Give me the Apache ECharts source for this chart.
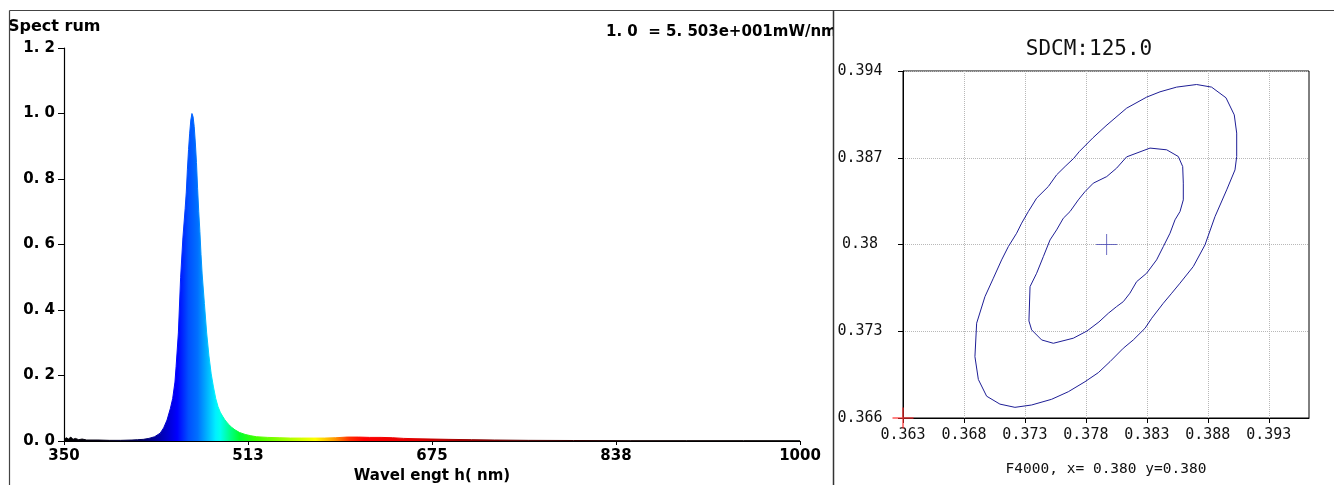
<!DOCTYPE html>
<html>
<head>
<meta charset="utf-8">
<script src="https://cdn.jsdelivr.net/npm/echarts@6/dist/echarts.min.js"></script>
<style>
html,body{margin:0;padding:0;background:#fff;}
#chart{width:1334px;height:485px;}
</style>
</head>
<body>
<div id="chart"></div>
<script>
// ---- Spectrum data (wavelength nm, relative intensity) ----
var wavelengths = [350,352,354,356,358,360,363,366,370,380,390,400,410,415,420,425,430,435,438,441,444,446,448,449,451,453,455,457,458,459,460,461,462,463,464,465,466,467,468,469,470,471,472,474,476,478,480,482,484,486,488,490,492,495,498,501,505,510,515,520,530,540,550,560,570,580,590,600,610,620,630,640,650,660,675,690,710,730,760,800,850,900,950,1000];
var intensities = [0.004,0.010,0.006,0.012,0.005,0.008,0.004,0.006,0.003,0.003,0.002,0.002,0.003,0.004,0.005,0.008,0.013,0.024,0.040,0.064,0.100,0.130,0.180,0.227,0.330,0.500,0.620,0.710,0.760,0.830,0.890,0.940,0.980,1.000,0.990,0.960,0.910,0.850,0.770,0.700,0.640,0.570,0.510,0.420,0.330,0.260,0.205,0.165,0.130,0.105,0.088,0.076,0.065,0.052,0.042,0.034,0.026,0.020,0.016,0.013,0.011,0.010,0.009,0.009,0.009,0.009,0.010,0.012,0.012,0.011,0.011,0.010,0.008,0.007,0.006,0.005,0.004,0.003,0.002,0.0015,0.001,0.001,0.001,0.001];
var spectrumXTicks = [350,512.5,675,837.5,1000];
var spectrumYTicks = [0,0.2,0.4,0.6,0.8,1.0,1.2];
var spectrumTitle = 'Spect rum';
var spectrumXName = 'Wavel engt h( nm)';
var spectrumScaleText = '1. 0  = 5. 503e+001mW/nm';

// ---- Chromaticity (SDCM) data ----
var outerContour = [[0.37700,0.38695],[0.37746,0.38750],[0.37858,0.38861],[0.37965,0.38958],[0.38134,0.39100],[0.38298,0.39189],[0.38408,0.39232],[0.38544,0.39270],[0.38708,0.39291],[0.38831,0.39270],[0.38949,0.39184],[0.39017,0.39046],[0.39037,0.38899],[0.39037,0.38710],[0.39023,0.38602],[0.38955,0.38441],[0.38859,0.38225],[0.38777,0.37997],[0.38681,0.37822],[0.38572,0.37688],[0.38504,0.37607],[0.38435,0.37526],[0.38340,0.37405],[0.38285,0.37324],[0.38189,0.37230],[0.38107,0.37163],[0.37998,0.37055],[0.37902,0.36966],[0.37793,0.36893],[0.37656,0.36812],[0.37519,0.36751],[0.37355,0.36705],[0.37218,0.36686],[0.37095,0.36712],[0.36986,0.36776],[0.36918,0.36911],[0.36890,0.37095],[0.36904,0.37365],[0.36972,0.37579],[0.37041,0.37728],[0.37109,0.37876],[0.37164,0.37983],[0.37232,0.38091],[0.37273,0.38172],[0.37328,0.38266],[0.37396,0.38374],[0.37492,0.38468],[0.37560,0.38562],[0.37630,0.38630],[0.37700,0.38695]];
var innerContour = [[0.38134,0.38707],[0.38326,0.38778],[0.38463,0.38764],[0.38558,0.38710],[0.38594,0.38629],[0.38599,0.38495],[0.38599,0.38360],[0.38572,0.38266],[0.38531,0.38199],[0.38490,0.38091],[0.38435,0.37983],[0.38380,0.37876],[0.38298,0.37768],[0.38216,0.37700],[0.38161,0.37607],[0.38107,0.37539],[0.38052,0.37499],[0.37984,0.37445],[0.37907,0.37375],[0.37809,0.37302],[0.37697,0.37244],[0.37533,0.37203],[0.37437,0.37230],[0.37355,0.37311],[0.37333,0.37383],[0.37342,0.37660],[0.37396,0.37768],[0.37451,0.37902],[0.37506,0.38037],[0.37560,0.38118],[0.37615,0.38212],[0.37670,0.38266],[0.37738,0.38360],[0.37793,0.38427],[0.37861,0.38495],[0.37971,0.38548],[0.38052,0.38616],[0.38134,0.38707]];
var centerPoint = [[0.3797,0.3800]];
var referencePoint = [[0.363,0.366]];
var cieXTicks = [0.363,0.368,0.373,0.378,0.383,0.388,0.393];
var cieYTicks = [0.366,0.373,0.38,0.387,0.394];
var cieTitle = 'SDCM:125.0';
var cieXName = 'F4000, x= 0.380 y=0.380';

var spectrumData = wavelengths.map(function(w,i){return [w,intensities[i]];});

function spectrumGradient(){
  var stops = [
    [350,'#000000'],[390,'#05001a'],[420,'#000060'],[440,'#0000c8'],[450,'#0000ff'],
    [460,'#0050ff'],[468,'#0070ff'],[476,'#00b0ff'],[484,'#00f0ff'],[488,'#00ffee'],
    [496,'#00ff90'],[505,'#00ff30'],[520,'#40ff00'],[550,'#b0ff00'],[572,'#ffff00'],
    [588,'#ffa000'],[602,'#ff3000'],[615,'#ff0000'],[660,'#e00000'],[700,'#a00000'],
    [760,'#500000'],[850,'#150000'],[1000,'#000000']
  ];
  return new echarts.graphic.LinearGradient(0,0,1,0, stops.map(function(s){
    return {offset:(s[0]-350)/650, color:s[1]};
  }));
}

var chart = echarts.init(document.getElementById('chart'), null, {renderer:'canvas'});
var leftFont = 'DejaVu Sans';
var monoFont = 'DejaVu Sans Mono';

var option = {
  animation:false,
  backgroundColor:'#ffffff',
  grid:[
    {left:64, top:48, width:736, height:393, show:false, containLabel:false, outerBoundsMode:'none'},
    {left:903, top:71, width:406, height:347, show:true, borderColor:'#000', borderWidth:1, backgroundColor:'rgba(0,0,0,0)', containLabel:false, outerBoundsMode:'none'}
  ],
  xAxis:[
    {type:'value', gridIndex:0, min:350, max:1000,
     axisLine:{show:true, lineStyle:{color:'#000', width:1.2}},
     axisTick:{show:true, length:4, customValues:spectrumXTicks, lineStyle:{color:'#000'}},
     axisLabel:{customValues:spectrumXTicks, margin:8, color:'#000', fontFamily:leftFont, fontWeight:'bold', fontSize:15,
       formatter:function(v){return String(Math.round(v));}},
     splitLine:{show:false},
     name:spectrumXName, nameLocation:'middle', nameGap:27,
     nameTextStyle:{color:'#000', fontFamily:leftFont, fontWeight:'bold', fontSize:15}
    },
    {type:'value', gridIndex:1, min:0.363, max:0.3963,
     axisLine:{show:true, onZero:false, lineStyle:{color:'#000', width:1}},
     axisTick:{show:true, length:5, customValues:cieXTicks, lineStyle:{color:'#000'}},
     axisLabel:{customValues:cieXTicks, margin:10, color:'#111', fontFamily:monoFont, fontSize:15,
       formatter:function(v){return v.toFixed(3);}},
     splitLine:{show:true, lineStyle:{color:'#b8b8b8', type:'dotted', width:1}},
     name:cieXName, nameLocation:'middle', nameGap:44,
     nameTextStyle:{color:'#111', fontFamily:monoFont, fontSize:14.5}
    }
  ],
  yAxis:[
    {type:'value', gridIndex:0, min:0, max:1.2,
     axisLine:{show:true, lineStyle:{color:'#000', width:1.2}},
     axisTick:{show:true, length:6, customValues:spectrumYTicks, lineStyle:{color:'#000'}},
     axisLabel:{customValues:spectrumYTicks, margin:9, color:'#000', fontFamily:leftFont, fontWeight:'bold', fontSize:15,
       formatter:function(v){return v.toFixed(1).replace('.', '. ');}},
     splitLine:{show:false}
    },
    {type:'value', gridIndex:1, min:0.366, max:0.394,
     axisLine:{show:true, onZero:false, lineStyle:{color:'#000', width:1}},
     axisTick:{show:true, length:5, customValues:cieYTicks, lineStyle:{color:'#000'}},
     axisLabel:{customValues:cieYTicks, margin:43, align:'center', color:'#111', fontFamily:monoFont, fontSize:15,
       formatter:function(v){return String(+v.toFixed(3));}},
     splitLine:{show:true, lineStyle:{color:'#b8b8b8', type:'dotted', width:1}}
    }
  ],
  series:[
    {type:'line', xAxisIndex:0, yAxisIndex:0, data:spectrumData, symbol:'none', smooth:false,
     lineStyle:{width:1, color:spectrumGradient()},
     areaStyle:{color:spectrumGradient(), opacity:1}},
    {type:'line', xAxisIndex:1, yAxisIndex:1, data:outerContour, symbol:'none', smooth:false,
     lineStyle:{width:1, color:'#1e1e96'}},
    {type:'line', xAxisIndex:1, yAxisIndex:1, data:innerContour, symbol:'none', smooth:false,
     lineStyle:{width:1, color:'#1e1e96'}},
    {type:'scatter', xAxisIndex:1, yAxisIndex:1, data:centerPoint, clip:false,
     symbol:'path://M10 0 L10 20 M0 10 L20 10', symbolSize:21,
     itemStyle:{color:'none', borderColor:'#4a4ab4', borderWidth:1}},
    {type:'scatter', xAxisIndex:1, yAxisIndex:1, data:referencePoint, clip:false,
     symbol:'path://M10 0 L10 20 M0 10 L20 10', symbolSize:21,
     itemStyle:{color:'none', borderColor:'#ff3030', borderWidth:1.5}}
  ],
  graphic:[
    {type:'text', left:8, top:19, z:50, style:{text:spectrumTitle, fill:'#000', font:'bold 16px "DejaVu Sans"'}},
    {type:'text', left:606, top:25, z:50, style:{text:spectrumScaleText, fill:'#000', font:'bold 15px "DejaVu Sans"'}},
    {type:'rect', shape:{x:834, y:14, width:30, height:34}, z:100, style:{fill:'#fff'}},
    {type:'text', x:1089, y:50, z:50, style:{text:cieTitle, fill:'#111', font:'21px "DejaVu Sans Mono"', align:'center', verticalAlign:'middle'}},
    {type:'line', shape:{x1:9.5, y1:10.5, x2:1334, y2:10.5}, z:110, style:{stroke:'#444', lineWidth:1.2}},
    {type:'line', shape:{x1:9.5, y1:10.5, x2:9.5, y2:485}, z:110, style:{stroke:'#444', lineWidth:1.2}},
    {type:'line', shape:{x1:833.5, y1:10.5, x2:833.5, y2:485}, z:110, style:{stroke:'#333', lineWidth:1.5}}
  ]
};
chart.setOption(option);
</script>
</body>
</html>
